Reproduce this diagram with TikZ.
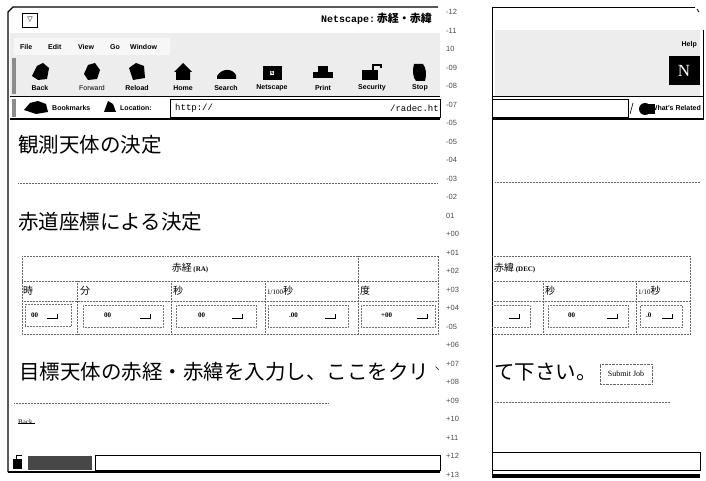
\documentclass[tikz,border=0pt]{standalone}
\usepackage{fontspec}
\setmainfont{Liberation Serif}
\newfontfamily\jp{Noto Sans CJK JP}
\newfontfamily\uif{Liberation Sans}
\newfontfamily\monof{Liberation Mono}
\newfontfamily\symf{DejaVu Sans}
\begin{document}
\begin{tikzpicture}[x=1pt,y=-1pt,
  ui/.style={font=\uif\bfseries\fontsize{7}{8}\selectfont, inner sep=0pt},
  scalelbl/.style={font=\uif\fontsize{7.5}{8}\selectfont, text=black!70, inner sep=0pt, anchor=west},
  head/.style={font=\jp\fontsize{20.5}{22}\selectfont, inner sep=0pt, anchor=west},
  cell/.style={font=\jp\fontsize{10}{11}\selectfont, inner sep=0pt, anchor=west},
  val/.style={font=\bfseries\fontsize{7}{8}\selectfont, inner sep=0pt, anchor=west},
  dotrule/.style={densely dotted, black!60, line width=0.5pt},
  inbox/.style={draw=black!55, densely dotted, line width=0.5pt, minimum height=22pt, inner sep=0pt},
  frameline/.style={line width=1.3pt},
  texture/.style={fill=black!7},
  retmark/.pic={\draw[line width=0.9pt] (-5,0)--(5,0)--(5,-4);}
]
\useasboundingbox[fill=white] (0,0) rectangle (706,481);

% ================= LEFT WINDOW =================
% textured chrome
\fill[texture] (10,33) rectangle (440,96);
\fill[black!3] (14,38) rectangle (170,55);
% frame
\draw[frameline] (8,472) -- (8,12) -- (13,7) -- (438,7);
\draw[line width=0.8pt] (10,96) -- (440,96);
\draw[line width=1.2pt] (10,119) -- (440,119);
\draw[frameline] (8,472) -- (440,472);

% title bar
\node[draw, minimum width=15pt, minimum height=14pt, inner sep=0pt, font=\symf\fontsize{7}{8}\selectfont] (menubtn) at (30,20) {▽};
\node[anchor=east, inner sep=0pt] (title) at (432,19)
  {{\monof\bfseries\fontsize{10}{11}\selectfont Netscape:}\,{\jp\bfseries\fontsize{11}{12}\selectfont 赤経・赤緯}};

% menu
\node[ui, anchor=west] (mfile) at (20,47) {File};
\node[ui, anchor=west] (medit) at (48,47) {Edit};
\node[ui, anchor=west] (mview) at (78,47) {View};
\node[ui, anchor=west] (mgo) at (110,47) {Go};
\node[ui, anchor=west] (mwin) at (130,47) {Window};

% toolbar grip
\fill[black!45] (12,58) rectangle (16,94);
\fill[black!45] (12,99) rectangle (16,117);

% toolbar icons (simple silhouettes)
\fill (32,76)--(37,66)--(43,63)--(49,68)--(47,79)--(38,80)--cycle;
\fill (84,74)--(88,65)--(95,63)--(100,70)--(97,79)--(88,80)--cycle;
\fill (129,68)--(136,63)--(144,66)--(145,78)--(133,80)--(131,74)--cycle;
\fill (174,72)--(183,63)--(192,72)--(190,72)--(190,80)--(176,80)--(176,72)--cycle;
\fill (217,76) .. controls (222,68) and (232,68) .. (236,75) -- (236,79) -- (217,79) -- cycle;
\fill (263,66) rectangle (282,80);
\node[fill=white, inner sep=0.5pt, font=\uif\bfseries\fontsize{4}{4}\selectfont] (nsicon) at (272,73) {N};
\fill (313,72) rectangle (333,78);
\fill (318,66) rectangle (328,72);
\fill (362,70) rectangle (378,80);
\draw[line width=1.6pt] (373,70) -- (373,65) -- (381,65) -- (381,68);
\fill (414,64) .. controls (412,70) and (413,78) .. (416,81) -- (425,81) .. controls (427,74) and (426,68) .. (423,64) -- cycle;

\node[ui] (tback) at (40,88) {Back};
\node[ui, font=\uif\fontsize{7}{8}\selectfont] (tfwd) at (92,88) {Forward};
\node[ui] (treload) at (137,88) {Reload};
\node[ui] (thome) at (183,88) {Home};
\node[ui] (tsearch) at (226,88) {Search};
\node[ui] (tns) at (272,88) {Netscape};
\node[ui] (tprint) at (323,88) {Print};
\node[ui] (tsec) at (372,88) {Security};
\node[ui] (tstop) at (420,88) {Stop};

% location bar
\fill (24,110)--(30,103)--(38,101)--(46,104)--(48,112)--(36,114)--cycle;
\node[ui, anchor=west] (bookm) at (52,108) {Bookmarks};
\fill (104,112)--(108,101)--(113,104)--(116,112)--cycle;
\node[ui, anchor=west] (locl) at (120,108) {Location:};
\draw[fill=white, line width=0.8pt] (170,99) rectangle (440,117);
\node[anchor=west, inner sep=0pt, font=\monof\fontsize{9}{10}\selectfont] (url1) at (175,108) {http://};
\node[anchor=east, inner sep=0pt, font=\monof\fontsize{9}{10}\selectfont] (url2) at (439,108) {/radec.ht};

% page content
\node[head] (h1) at (18,145) {観測天体の決定};
\draw[dotrule] (18,183) -- (438,183);
\node[head] (h2) at (18,222) {赤道座標による決定};

% RA table
\draw[dotrule] (22,256) rectangle (438,334);
\draw[dotrule] (22,281) -- (438,281);
\draw[dotrule] (22,301) -- (438,301);
\draw[dotrule] (358,256) -- (358,334);
\draw[dotrule] (77,281) -- (77,334);
\draw[dotrule] (171,281) -- (171,334);
\draw[dotrule] (265,281) -- (265,334);
\node[inner sep=0pt, anchor=center] (ra) at (190,268) {{\jp\fontsize{10}{11}\selectfont 赤経}\,{\bfseries\fontsize{7}{8}\selectfont (RA)}};
\node[cell] (lh) at (23,291) {時};
\node[cell] (lm) at (80,291) {分};
\node[cell] (ls) at (173,291) {秒};
\node[inner sep=0pt, anchor=west] (l100) at (267,291) {{\fontsize{7}{8}\selectfont 1/100}{\jp\fontsize{10}{11}\selectfont 秒}};
\node[cell] (ld) at (360,291) {度};

\node[inbox, minimum width=46pt] (in1) at (48,315) {};
\node[val] (v1) at (31,315) {00};
\pic at (52,318) {retmark};
\node[inbox, minimum width=80pt] (in2) at (123,316) {};
\node[val] (v2) at (104,315) {00};
\pic at (145,318) {retmark};
\node[inbox, minimum width=80pt] (in3) at (216,316) {};
\node[val] (v3) at (198,315) {00};
\pic at (237,318) {retmark};
\node[inbox, minimum width=80pt] (in4) at (308,316) {};
\node[val] (v4) at (289,315) {.00};
\pic at (330,318) {retmark};
\node[inbox, minimum width=74pt] (in5) at (398,316) {};
\node[val] (v5) at (381,315) {+00};
\pic at (422,318) {retmark};

% instruction line
\node[head, font=\jp\fontsize{20.5}{22}\selectfont] (instr) at (19,372) {目標天体の赤経・赤緯を入力し、ここをクリ};
\node[inner sep=0pt, font=\jp\fontsize{8}{8}\selectfont] (stray) at (437,369) {ヽ};
\draw[dotrule] (14,403) -- (328,403);
\node[inner sep=0pt, anchor=west, font=\fontsize{7}{8}\selectfont] (backlink) at (18,422) {Back};
\draw[line width=0.5pt] (backlink.south west) ++(0,-1.5) -- ++(17,0);

% status bar
\fill (13,459) rectangle (22,469);
\draw[line width=1pt] (16,459) -- (16,455) -- (22,455);
\fill[black!72] (28,456) rectangle (92,470);
\draw[line width=0.8pt] (95,455) rectangle (440,470);

% scale between the panels
\foreach \t [count=\i from 0] in {-12,-11,10,-09,-08,-07,-05,-05,-04,-03,-02,01,+00,+01,+02,+03,+04,-05,+06,+07,+08,+09,+10,+11,+12,+13}
  \node[scalelbl] (sc\i) at (446,{12+\i*18.5}) {\t};

% ================= RIGHT WINDOW =================
\fill[texture] (495,30) rectangle (700,96);
\draw[line width=1pt] (492,478) -- (492,8) -- (695,8);
\draw[line width=0.8pt] (697,9) -- (699,12);
\draw[line width=0.8pt] (703,30) -- (703,120);
\draw[line width=0.8pt] (492,96) -- (703,96);
\draw[line width=1.2pt] (492,119) -- (703,119);
\node[ui, anchor=east] (help) at (697,45) {Help};
\node[fill=black, minimum width=31pt, minimum height=29pt, inner sep=0pt, text=white, font=\fontsize{17}{17}\selectfont] (nlogo) at (684,71) {N};
\draw[fill=white, line width=0.8pt] (492,99) rectangle (628,117);
\draw[line width=0.6pt] (630,114) -- (633,103);
\fill (645,109) circle (6);
\fill (648,104) rectangle (655,114);
\node[ui, anchor=east] (related) at (701,108) {What's Related};

\draw[dotrule] (495,182) -- (700,182);

% DEC table
\draw[dotrule] (492,256) -- (690,256) -- (690,334) -- (492,334);
\draw[dotrule] (492,281) -- (690,281);
\draw[dotrule] (492,301) -- (690,301);
\draw[dotrule] (543,281) -- (543,334);
\draw[dotrule] (636,281) -- (636,334);
\node[inner sep=0pt, anchor=west] (dec) at (494,268) {{\jp\fontsize{10}{11}\selectfont 赤緯}\,{\bfseries\fontsize{7}{8}\selectfont (DEC)}};
\node[cell] (rs) at (545,291) {秒};
\node[inner sep=0pt, anchor=west] (r10) at (638,291) {{\fontsize{7}{8}\selectfont 1/10}{\jp\fontsize{10}{11}\selectfont 秒}};
\draw[draw=black!55, densely dotted, line width=0.5pt] (492,305) -- (530,305) -- (530,327) -- (492,327);
\pic at (514,318) {retmark};
\node[inbox, minimum width=80pt] (in7) at (588,316) {};
\node[val] (v7) at (568,315) {00};
\pic at (612,318) {retmark};
\node[inbox, minimum width=42pt] (in8) at (661,316) {};
\node[val] (v8) at (646,315) {.0};
\pic at (667,318) {retmark};

\node[head, font=\jp\fontsize{20.5}{22}\selectfont] (instr2) at (494,372) {て下さい。};
\node[draw=black!60, densely dotted, inner sep=0pt, minimum width=52pt, minimum height=20pt, font=\fontsize{8}{9}\selectfont] (submit) at (626,374) {Submit Job};
\draw[dotrule] (495,402) -- (670,402);

\draw[line width=0.8pt] (492,452) rectangle (700,470);
\fill (492,474) rectangle (700,478);
\end{tikzpicture}
\end{document}
